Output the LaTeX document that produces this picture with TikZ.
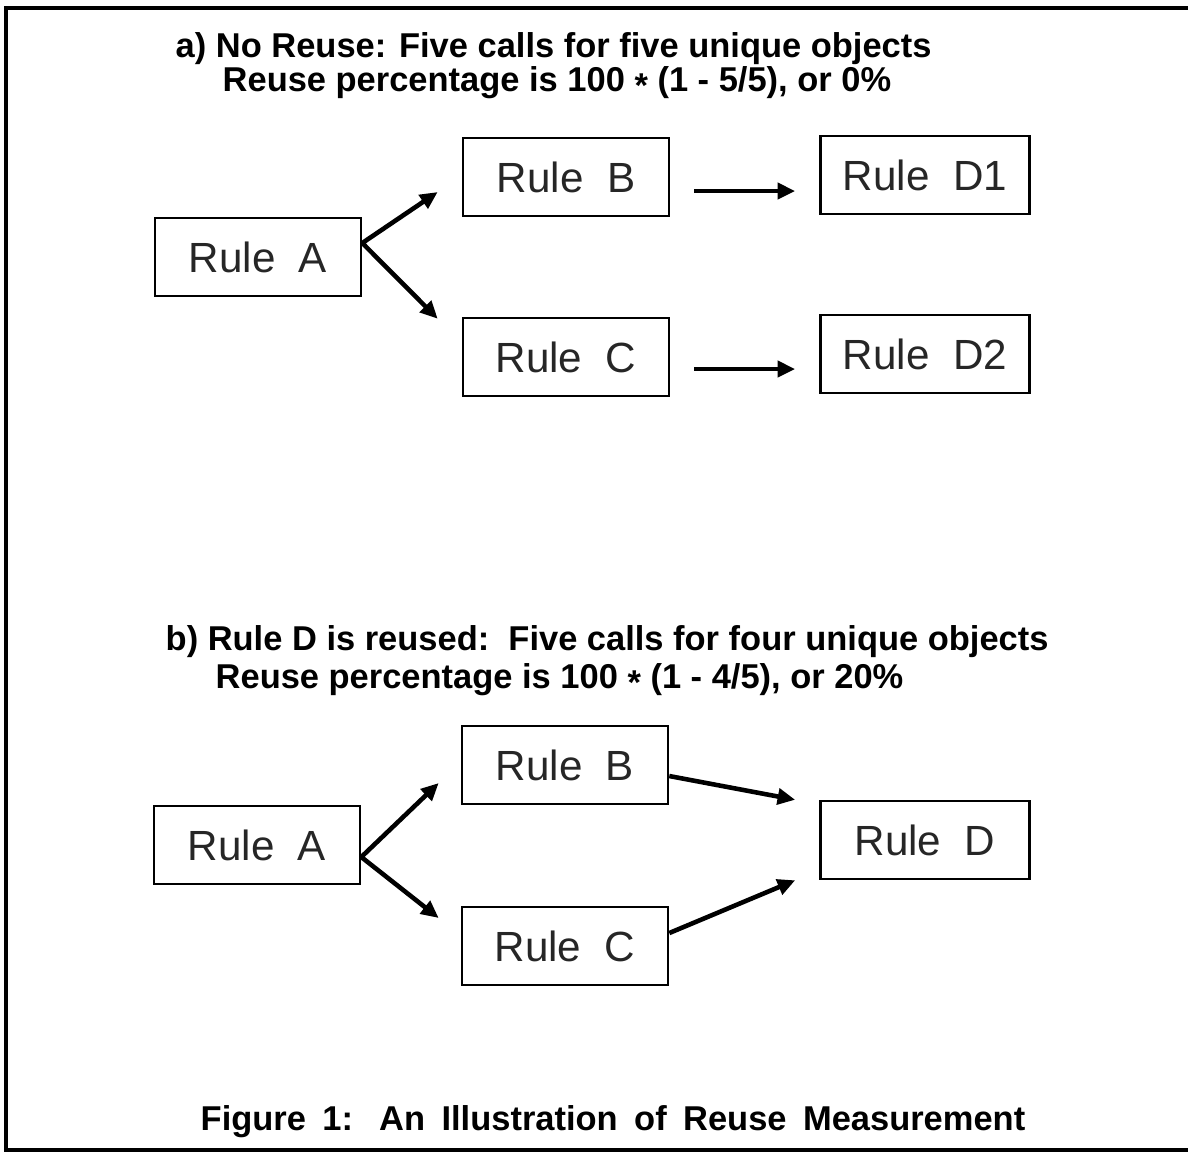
\documentclass[tikz,border=0pt]{standalone}
\usepackage{fontspec}
\setmainfont{Liberation Sans}
\usepackage{tikz}
\usetikzlibrary{arrows.meta}

\tikzset{
  rulebox/.style={draw, line width=0.7pt, minimum width=2.06cm, minimum height=0.78cm,
    inner sep=0pt, font=\fontsize{12}{14}\selectfont, text=black!85},
  heading/.style={anchor=base west, inner sep=0pt, font=\bfseries\fontsize{9.8}{12}\selectfont},
  arr/.style={line width=1.3pt, -{Triangle[length=5pt,width=4.5pt]}}
}
\newcommand{\timesdot}{\raisebox{-0.35ex}{*}}
\newcommand{\capgap}{\ \hspace{0.2em}}

\begin{document}
\begin{tikzpicture}[x=0.01cm, y=-0.01cm]
  \useasboundingbox (0,0) rectangle (1188,1153);
  % frame
  \draw[line width=1pt] (1188,8) -- (6,8) -- (6,1150) -- (1188,1150);

  % a) no reuse
  \node[heading] (ta1) at (175,57) {a) No Reuse: Five calls for five unique objects};
  \node[heading] (ta2) at (222,91) {Reuse percentage is 100 \timesdot{} (1 - 5/5), or 0\%};
  \node[rulebox] (aA) at (258,257) {Rule\ \ A};
  \node[rulebox] (aB) at (566,177) {Rule\ \ B};
  \node[rulebox] (aC) at (566,357) {Rule\ \ C};
  \node[rulebox, minimum width=2.09cm] (aD1) at (925,175) {Rule\ \ D1};
  \node[rulebox, minimum width=2.09cm] (aD2) at (925,354) {Rule\ \ D2};
  \draw[arr] ([yshift=0.14cm]aA.east) -- ([xshift=-0.24cm,yshift=-0.15cm]aB.west);
  \draw[arr] ([yshift=0.14cm]aA.east) -- ([xshift=-0.24cm,yshift=-0.02cm]aC.north west);
  \draw[arr] ([xshift=0.24cm,yshift=-0.14cm]aB.east) -- ([xshift=-0.24cm,yshift=-0.14cm]aB.east -| aD1.west);
  \draw[arr] ([xshift=0.24cm,yshift=-0.12cm]aC.east) -- ([xshift=-0.24cm,yshift=-0.12cm]aC.east -| aD2.west);

  % b) rule D reused
  \node[heading] (tb1) at (165,650) {b) Rule D is reused:\ \ Five calls for four unique objects};
  \node[heading] (tb2) at (215,688) {Reuse percentage is 100 \timesdot{} (1 - 4/5), or 20\%};
  \node[rulebox] (bA) at (257,845) {Rule\ \ A};
  \node[rulebox] (bB) at (565,765) {Rule\ \ B};
  \node[rulebox] (bC) at (565,946) {Rule\ \ C};
  \node[rulebox, minimum width=2.09cm] (bD) at (925,840) {Rule\ \ D};
  \draw[arr] ([yshift=-0.12cm]bA.east) -- ([xshift=-0.22cm,yshift=-0.18cm]bB.west);
  \draw[arr] ([yshift=-0.12cm]bA.east) -- ([xshift=-0.22cm,yshift=0.28cm]bC.west);
  \draw[arr] ([yshift=-0.11cm]bB.east) -- ([xshift=-0.24cm]bD.north west);
  \draw[arr] ([yshift=0.13cm]bC.east) -- ([xshift=-0.24cm]bD.south west);

  % caption
  \node[heading] (cap) at (200,1130) {Figure\capgap 1:\capgap\ An\capgap Illustration\capgap of\capgap Reuse\capgap Measurement};
\end{tikzpicture}
\end{document}
